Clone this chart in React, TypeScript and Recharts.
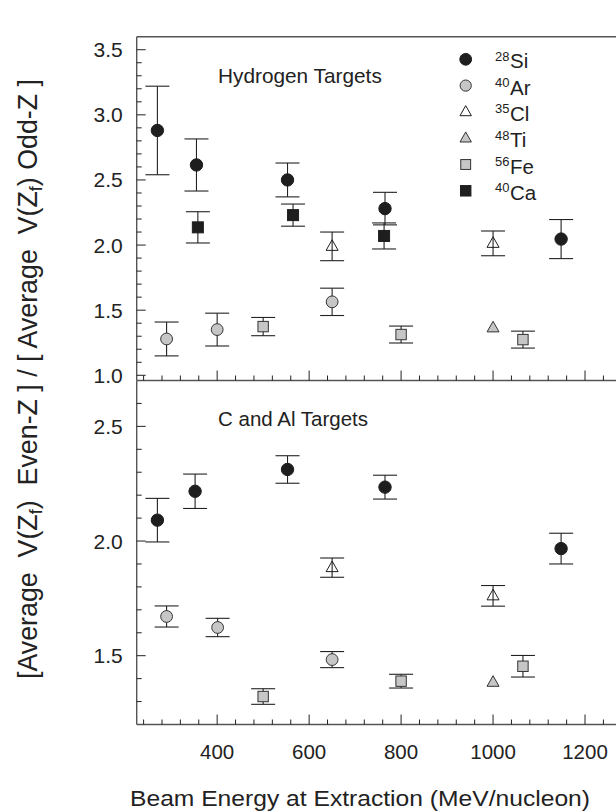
import React from 'react';
import { ScatterChart, Scatter, XAxis, YAxis, ErrorBar, ReferenceLine } from 'recharts';

// ---------- data (energy MeV/nucleon, ratio value, symmetric error) ----------
const hydSi = [
  { e: 270, v: 2.88, err: 0.34 },
  { e: 355, v: 2.615, err: 0.2 },
  { e: 553, v: 2.5, err: 0.13 },
  { e: 765, v: 2.28, err: 0.125 },
  { e: 1148, v: 2.046, err: 0.15 },
];
const hydAr = [
  { e: 290, v: 1.279, err: 0.13 },
  { e: 400, v: 1.351, err: 0.126 },
  { e: 650, v: 1.564, err: 0.105 },
];
const hydCl = [
  { e: 650, v: 1.99, err: 0.11 },
  { e: 1000, v: 2.013, err: 0.095 },
];
const hydTi = [{ e: 1000, v: 1.364 }];
const hydFe = [
  { e: 500, v: 1.374, err: 0.07 },
  { e: 800, v: 1.313, err: 0.065 },
  { e: 1065, v: 1.274, err: 0.065 },
];
const hydCa = [
  { e: 358, v: 2.136, err: 0.12 },
  { e: 565, v: 2.23, err: 0.085 },
  { e: 763, v: 2.07, err: 0.1 },
];

const cAlSi = [
  { e: 270, v: 2.091, err: 0.095 },
  { e: 352, v: 2.217, err: 0.075 },
  { e: 553, v: 2.312, err: 0.06 },
  { e: 765, v: 2.235, err: 0.052 },
  { e: 1148, v: 1.967, err: 0.067 },
];
const cAlAr = [
  { e: 290, v: 1.671, err: 0.046 },
  { e: 401, v: 1.623, err: 0.04 },
  { e: 650, v: 1.483, err: 0.035 },
];
const cAlCl = [
  { e: 650, v: 1.884, err: 0.042 },
  { e: 1000, v: 1.761, err: 0.045 },
];
const cAlTi = [{ e: 1000, v: 1.384 }];
const cAlFe = [
  { e: 500, v: 1.322, err: 0.034 },
  { e: 800, v: 1.389, err: 0.03 },
  { e: 1065, v: 1.454, err: 0.047 },
];

// ---------- ticks ----------
const xTicks = [240, 280, 320, 360, 400, 440, 480, 520, 560, 600, 640, 680, 720, 760, 800, 840, 880, 920, 960, 1000, 1040, 1080, 1120, 1160, 1200, 1240, 1280];
const xMajor = [400, 600, 800, 1000, 1200];
const yTicksTop = [1.0, 1.1, 1.2, 1.3, 1.4, 1.5, 1.6, 1.7, 1.8, 1.9, 2.0, 2.1, 2.2, 2.3, 2.4, 2.5, 2.6, 2.7, 2.8, 2.9, 3.0, 3.1, 3.2, 3.3, 3.4, 3.5];
const yMajorTop = [1.0, 1.5, 2.0, 2.5, 3.0, 3.5];
const yTicksBottom = [1.3, 1.4, 1.5, 1.6, 1.7, 1.8, 1.9, 2.0, 2.1, 2.2, 2.3, 2.4, 2.5, 2.6];
const yMajorBottom = [1.5, 2.0, 2.5];

const legendItems = [
  { mass: '28', el: 'Si', kind: 'si' },
  { mass: '40', el: 'Ar', kind: 'ar' },
  { mass: '35', el: 'Cl', kind: 'cl' },
  { mass: '48', el: 'Ti', kind: 'ti' },
  { mass: '56', el: 'Fe', kind: 'fe' },
  { mass: '40', el: 'Ca', kind: 'ca' },
];

// ---------- layout constants ----------
const FONT = '"Liberation Sans", Arial, Helvetica, sans-serif';
const AXIS_X = 136.7;
const AX_COLOR = '#555';
const INK = '#1e1e1e';
const GRAY = '#c6c6c6';

const isIn = (arr: number[], v: number) => arr.some((a) => Math.abs(a - v) < 1e-6);

// ---------- symbols ----------
const drawSymbol = (kind: string, cx: number, cy: number, scale = 1) => {
  if (kind === 'si') return <circle cx={cx} cy={cy} r={6.2 * scale} fill={INK} stroke={INK} strokeWidth={1} />;
  if (kind === 'ar') return <circle cx={cx} cy={cy} r={5.9 * scale} fill={GRAY} stroke="#333" strokeWidth={1} />;
  if (kind === 'fe') {
    const h = 5.2 * scale;
    return <rect x={cx - h} y={cy - h} width={2 * h} height={2 * h} fill={GRAY} stroke="#333" strokeWidth={1} />;
  }
  if (kind === 'ca') {
    const h = 5.5 * scale;
    return <rect x={cx - h} y={cy - h} width={2 * h} height={2 * h} fill={INK} stroke={INK} strokeWidth={1} />;
  }
  const w = 6 * scale;
  const pts = `${cx},${cy - 6.6 * scale} ${cx - w},${cy + 4 * scale} ${cx + w},${cy + 4 * scale}`;
  if (kind === 'cl') return <polygon points={pts} fill="none" stroke={INK} strokeWidth={1} />;
  return <polygon points={pts} fill={GRAY} stroke="#333" strokeWidth={1} />;
};

const shapeOf = (kind: string) => (p: any) => <g>{drawSymbol(kind, p.cx, p.cy)}</g>;

// ---------- ticks (drawn inward from the axis line) ----------
const makeXTick = (showLabel: boolean) => (props: any) => {
  const { x, y, payload } = props;
  const v = payload.value;
  const major = isIn(xMajor, v);
  return (
    <g>
      <line x1={x} x2={x} y1={y} y2={y - (major ? 10 : 5)} stroke="#222" strokeWidth={1} />
      {showLabel && major ? (
        <text x={x} y={y + 34.5} textAnchor="middle" fontSize={20.5} fill="#222" fontFamily={FONT}>
          {v}
        </text>
      ) : null}
    </g>
  );
};

const makeYTick = (majors: number[]) => (props: any) => {
  const { x, y, payload } = props;
  const v = payload.value;
  const major = isIn(majors, v);
  return (
    <g>
      <line x1={x} x2={x + (major ? 9 : 5)} y1={y} y2={y} stroke="#222" strokeWidth={1} />
      {major ? (
        <text x={x - 14} y={y + 7.5} textAnchor="end" fontSize={21} fill="#222" fontFamily={FONT}>
          {v.toFixed(1)}
        </text>
      ) : null}
    </g>
  );
};

const errBar = (
  <ErrorBar dataKey="err" direction="y" width={12} stroke="#222" strokeWidth={1.1} isAnimationActive={false} />
);

const series = (data: any[], kind: string, withErr = true) => (
  <Scatter data={data} dataKey="v" shape={shapeOf(kind)} isAnimationActive={false}>
    {withErr ? errBar : null}
  </Scatter>
);

const axisLineStyle = { stroke: AX_COLOR, strokeWidth: 1.4 };

export default function App() {
  return (
    <div style={{ position: 'absolute', left: 0, top: 0, width: 616, height: 812, overflow: 'hidden', background: '#fff' }}>
      <div style={{ position: 'absolute', left: 0, top: 0 }}>
        <ScatterChart width={640} height={400.5} margin={{ top: 36.7, right: 9, bottom: 0, left: 0 }}>
          <XAxis
            type="number"
            dataKey="e"
            domain={[225, 1300]}
            ticks={xTicks}
            interval={0}
            tick={makeXTick(false)}
            tickLine={false}
            tickSize={0}
            tickMargin={0}
            axisLine={axisLineStyle}
            height={20}
            allowDataOverflow
          />
          <YAxis
            type="number"
            dataKey="v"
            domain={[0.96, 3.6]}
            ticks={yTicksTop}
            interval={0}
            tick={makeYTick(yMajorTop)}
            tickLine={false}
            tickSize={0}
            tickMargin={0}
            axisLine={axisLineStyle}
            width={AXIS_X}
            allowDataOverflow
          />
          <ReferenceLine y={3.6} stroke={AX_COLOR} strokeWidth={1.4} />
          {series(hydAr, 'ar')}
          {series(hydFe, 'fe')}
          {series(hydTi, 'ti', false)}
          {series(hydCl, 'cl')}
          {series(hydCa, 'ca')}
          {series(hydSi, 'si')}
        </ScatterChart>
      </div>
      <div style={{ position: 'absolute', left: 0, top: 0 }}>
        <ScatterChart width={640} height={784.5} margin={{ top: 380.5, right: 9, bottom: 0, left: 0 }}>
          <XAxis
            type="number"
            dataKey="e"
            domain={[225, 1300]}
            ticks={xTicks}
            interval={0}
            tick={makeXTick(true)}
            tickLine={false}
            tickSize={0}
            tickMargin={0}
            axisLine={axisLineStyle}
            height={60}
            allowDataOverflow
          />
          <YAxis
            type="number"
            dataKey="v"
            domain={[1.2, 2.7]}
            ticks={yTicksBottom}
            interval={0}
            tick={makeYTick(yMajorBottom)}
            tickLine={false}
            tickSize={0}
            tickMargin={0}
            axisLine={axisLineStyle}
            width={AXIS_X}
            allowDataOverflow
          />
          {series(cAlAr, 'ar')}
          {series(cAlFe, 'fe')}
          {series(cAlTi, 'ti', false)}
          {series(cAlCl, 'cl')}
          {series(cAlSi, 'si')}
        </ScatterChart>
      </div>
      <svg
        width={616}
        height={812}
        style={{ position: 'absolute', left: 0, top: 0, pointerEvents: 'none' }}
        fontFamily={FONT}
      >
        <text
          transform="translate(37,379) rotate(-90)"
          textAnchor="middle"
          fontSize={28}
          fill="#222"
          textLength={600}
          lengthAdjust="spacingAndGlyphs"
          style={{ whiteSpace: 'pre' }}
        >
          {'[Average  V(Z'}
          <tspan fontSize={19} dy={5}>f</tspan>
          <tspan dy={-5}>{')  Even-Z ] / [ Average  V(Z'}</tspan>
          <tspan fontSize={19} dy={5}>f</tspan>
          <tspan dy={-5}>{') Odd-Z ]'}</tspan>
        </text>
        <text x={360} y={806} textAnchor="middle" fontSize={22} fill="#222" textLength={460} lengthAdjust="spacingAndGlyphs">
          Beam Energy at Extraction (MeV/nucleon)
        </text>
        <text x={218} y={83.3} fontSize={20.8} fill="#222">Hydrogen Targets</text>
        <text x={218} y={425.7} fontSize={20.5} fill="#222">C and Al Targets</text>
        {legendItems.map((it, i) => {
          const cy = 59.3 + i * 26.3;
          return (
            <g key={i}>
              {drawSymbol(it.kind, 465.7, cy, 0.95)}
              <text x={495} y={cy + 1.5} fill="#222">
                <tspan fontSize={13}>{it.mass}</tspan>
                <tspan fontSize={20.5} x={510} dy={7.5}>{it.el}</tspan>
              </text>
            </g>
          );
        })}
      </svg>
    </div>
  );
}
